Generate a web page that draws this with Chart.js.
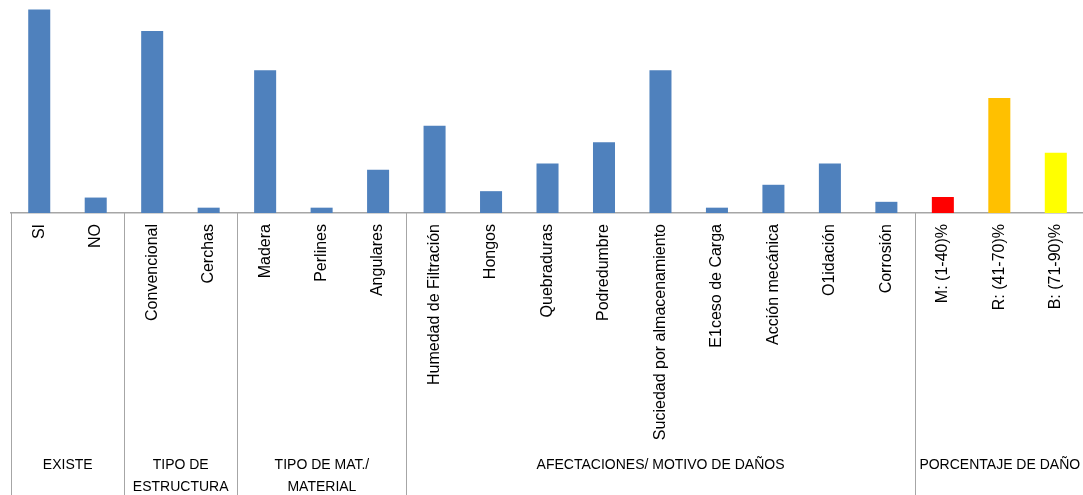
<!DOCTYPE html>
<html>
<head>
<meta charset="utf-8">
<script src="https://cdn.jsdelivr.net/npm/chart.js@4"></script>
<style>
    html, body { margin: 0; padding: 0; background: #fff; overflow: hidden; }
</style>
</head>
<body>
<canvas id="ChartDanos" width="1086" height="495"></canvas>
<script>
// Categorias del eje X
const categorias = [
    'SI', 'NO',
    'Convencional', 'Cerchas',
    'Madera', 'Perlines', 'Angulares',
    'Humedad de Filtración', 'Hongos', 'Quebraduras', 'Podredumbre',
    'Suciedad por almacenamiento', 'E1ceso de Carga', 'Acción mecánica',
    'O1idación', 'Corrosión',
    'M: (1-40)%', 'R: (41-70)%', 'B: (71-90)%'
];

// Valores de cada barra
const valores = [
    38.2, 2.9,
    34.2, 1,
    26.8, 1, 8.1,
    16.4, 4.1, 9.3, 13.3,
    26.8, 1, 5.3,
    9.3, 2.1,
    3, 21.6, 11.3
];

// Grupos (texto en lineas y cantidad de categorias)
const grupos = [
    ['EXISTE'],
    ['TIPO DE', 'ESTRUCTURA'],
    ['TIPO DE MAT./', 'MATERIAL'],
    ['AFECTACIONES/ MOTIVO DE DAÑOS'],
    ['PORCENTAJE DE DAÑO']
];
const tamGrupos = [2, 2, 3, 9, 3];

// Colors
const azul = '#4F81BD';
const colores = categorias.map((c, i) => {
    if (i === 16) return '#FF0000'; // red
    if (i === 17) return '#FFC000'; // orange
    if (i === 18) return '#FFFF00'; // yellow
    return azul;
});

const lineaGris = '#A6A6A6';

// Separadores y nombres de grupo debajo del eje
const gruposPlugin = {
    id: 'grupos',
    afterDraw(chart) {
        const { ctx, scales: { x }, chartArea } = chart;
        const bottom = chart.height;
        ctx.save();
        ctx.strokeStyle = lineaGris;
        ctx.lineWidth = 1;
        ctx.fillStyle = '#000';
        ctx.font = '14px "Liberation Sans", Arial, sans-serif';
        ctx.textAlign = 'center';
        ctx.textBaseline = 'middle';

        let inicio = 0;
        grupos.forEach((lineas, g) => {
            const fin = inicio + tamGrupos[g];
            const xIni = Math.round(x.getPixelForValue(inicio - 0.5)) + 0.5;
            const xFin = x.getPixelForValue(fin - 0.5);

            ctx.beginPath();
            ctx.moveTo(xIni, chartArea.bottom);
            ctx.lineTo(xIni, bottom);
            ctx.stroke();

            const centro = (xIni + xFin) / 2;
            lineas.forEach((txt, k) => {
                ctx.fillText(txt, centro, 465 + k * 22);
            });
            inicio = fin;
        });
        ctx.restore();
    }
};

new Chart(document.getElementById('ChartDanos'), {
    type: 'bar',
    data: {
        labels: categorias,
        datasets: [{
            data: valores,
            backgroundColor: colores,
            barPercentage: 0.39,
            categoryPercentage: 1
        }]
    },
    options: {
        responsive: false,
        animation: false,
        layout: { padding: { left: 11, right: 0, top: 0, bottom: 0 } },
        plugins: {
            legend: { display: false },
            tooltip: { enabled: false }
        },
        scales: {
            y: {
                display: false,
                min: 0,
                max: 40
            },
            x: {
                grid: { display: false, drawTicks: false },
                border: { display: true, color: lineaGris, width: 1.5 },
                ticks: {
                    autoSkip: false,
                    minRotation: 90,
                    maxRotation: 90,
                    padding: 11,
                    color: '#000',
                    font: { family: '"Liberation Sans", Arial, sans-serif', size: 16 }
                },
                afterFit(scale) {
                    scale.height = 282;
                }
            }
        }
    },
    plugins: [gruposPlugin]
});
</script>
</body>
</html>
